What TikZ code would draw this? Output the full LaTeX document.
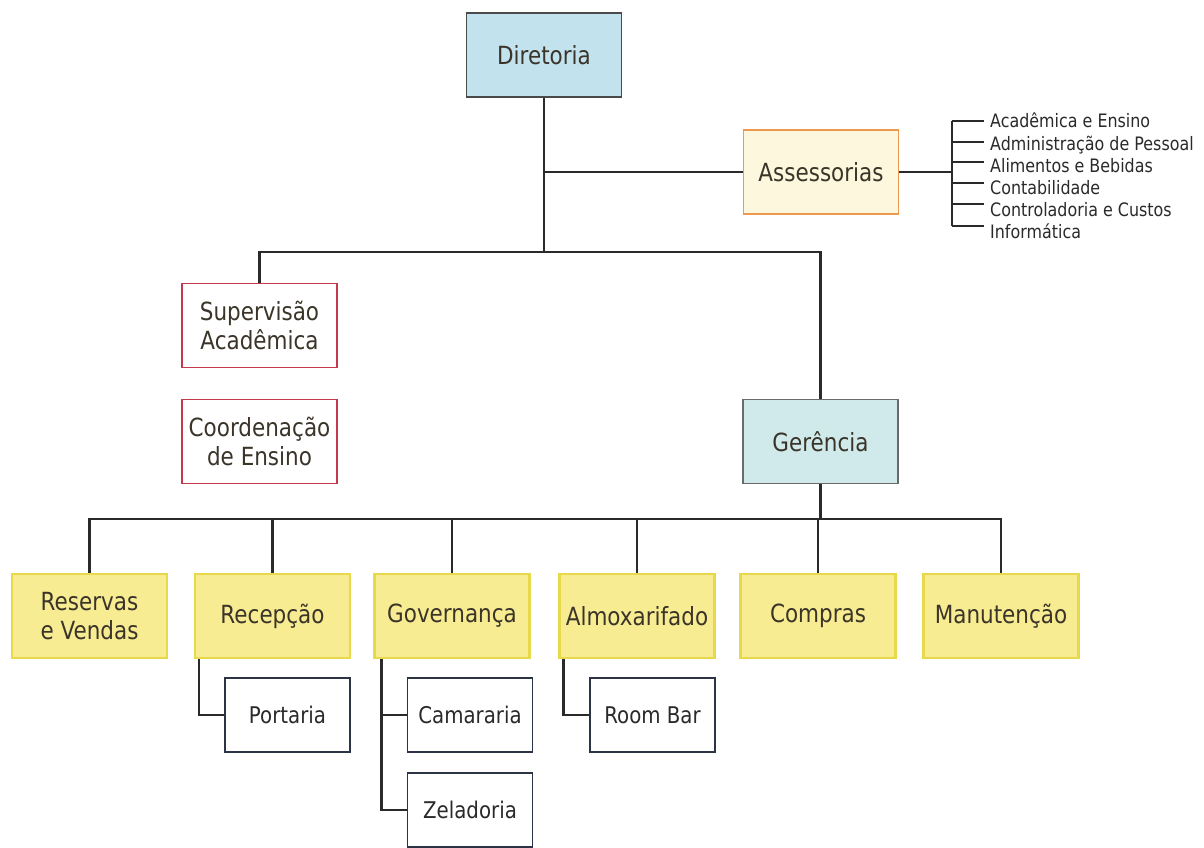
\documentclass[tikz,border=0pt]{standalone}
\usepackage{fontspec}
\setmainfont[FakeStretch=0.86]{DejaVu Sans}
\newcommand\mainsz{\fontsize{25}{29}\selectfont}
\newcommand\subsz{\fontsize{23}{27}\selectfont}
\newcommand\listsz{\fontsize{18.5}{22}\selectfont}
\definecolor{lnc}{HTML}{2A2A2A}
\definecolor{txc}{HTML}{3A3429}
\definecolor{dirfill}{HTML}{C2E2EE}
\definecolor{gerfill}{HTML}{D0EAEB}
\definecolor{assfill}{HTML}{FDF7DD}
\definecolor{assdraw}{HTML}{EE9A4E}
\definecolor{supdraw}{HTML}{C23A4C}
\definecolor{yelfill}{HTML}{F7EC92}
\definecolor{yeldraw}{HTML}{E8D94C}
\definecolor{subdraw}{HTML}{2C3345}
\tikzset{
  box/.style={draw=lnc, line width=1.8pt, minimum width=155pt, minimum height=84pt,
    align=center, font=\mainsz, text=txc, inner sep=0pt},
  bluebox/.style={box, fill=dirfill, draw=lnc!85},
  tealbox/.style={box, fill=gerfill, draw=lnc!70},
  assbox/.style={box, fill=assfill, draw=assdraw},
  redbox/.style={box, fill=white, draw=supdraw},
  yelbox/.style={box, fill=yelfill, draw=yeldraw, line width=2.2pt},
  subbox/.style={box, fill=white, draw=subdraw, minimum width=125pt, minimum height=74pt, font=\subsz, text=lnc},
  listitem/.style={anchor=base west, font=\listsz, text=lnc, inner sep=0pt},
  conn/.style={draw=lnc, line width=2.3pt},
}
\begin{document}
\begin{tikzpicture}[x=1pt, y=-1pt]
\useasboundingbox (0,0) rectangle (1204,848);
% main nodes
\node[bluebox] (dir) at (544,55) {Diretoria};
\node[assbox] (ass) at (821,172) {Assessorias};
\node[redbox] (sup) at (259.5,325.5) {Supervisão\\Acadêmica};
\node[redbox] (coo) at (259.5,441.5) {Coordenação\\de Ensino};
\node[tealbox] (ger) at (820.5,441.5) {Gerência};
% bottom row
\node[yelbox] (res) at (89.5,616) {Reservas\\e Vendas};
\node[yelbox] (rec) at (272.5,616) {Recepção};
\node[yelbox] (gov) at (452,616) {Governança};
\node[yelbox] (alm) at (637,616) {Almoxarifado};
\node[yelbox] (com) at (818,616) {Compras};
\node[yelbox] (man) at (1001,616) {Manutenção};
% sub boxes
\node[subbox] (por) at (287.5,715) {Portaria};
\node[subbox] (cam) at (470,715) {Camararia};
\node[subbox] (rb) at (652.5,715) {Room Bar};
\node[subbox] (zel) at (470,810) {Zeladoria};
% list
\node[listitem] (l1) at (990,128) {Acadêmica e Ensino};
\node[listitem] (l2) at (990,150) {Administração de Pessoal};
\node[listitem] (l3) at (990,172) {Alimentos e Bebidas};
\node[listitem] (l4) at (990,194) {Contabilidade};
\node[listitem] (l5) at (990,216) {Controladoria e Custos};
\node[listitem] (l6) at (990,238) {Informática};
% junctions
\coordinate (j1) at (544,252);
\coordinate (j3) at (820.5,519);
\coordinate (br) at (952,172);
\coordinate (t1) at (984,121);
\coordinate (t2) at (984,142);
\coordinate (t3) at (984,162);
\coordinate (t4) at (984,183);
\coordinate (t5) at (984,204);
\coordinate (t6) at (984,226);
% connectors
\draw[conn] (dir.south) -- (j1);
\draw[conn] (dir.south |- ass.west) -- (ass.west);
\draw[conn] (sup.north) |- (j1) -| (ger.north);
\draw[conn] (ger.south) -- (j3);
\draw[conn] (res.north) |- (j3) -| (man.north);
\draw[conn] (rec.north) -- (rec.north |- j3);
\draw[conn] (gov.north) -- (gov.north |- j3);
\draw[conn] (alm.north) -- (alm.north |- j3);
\draw[conn] (com.north) -- (com.north |- j3);
\draw[conn] ([xshift=5pt]rec.south west) |- (por.west);
\draw[conn] ([xshift=8pt]gov.south west) |- (zel.west);
\draw[conn] ([xshift=8pt]gov.south west |- cam.west) -- (cam.west);
\draw[conn] ([xshift=5pt]alm.south west) |- (rb.west);
% assessorias bracket
\draw[conn] (ass.east) -- (br);
\draw[conn] (t1 -| br) -- (t6 -| br);
\foreach \t in {t1,t2,t3,t4,t5,t6} \draw[conn] (\t -| br) -- (\t);
\end{tikzpicture}
\end{document}
